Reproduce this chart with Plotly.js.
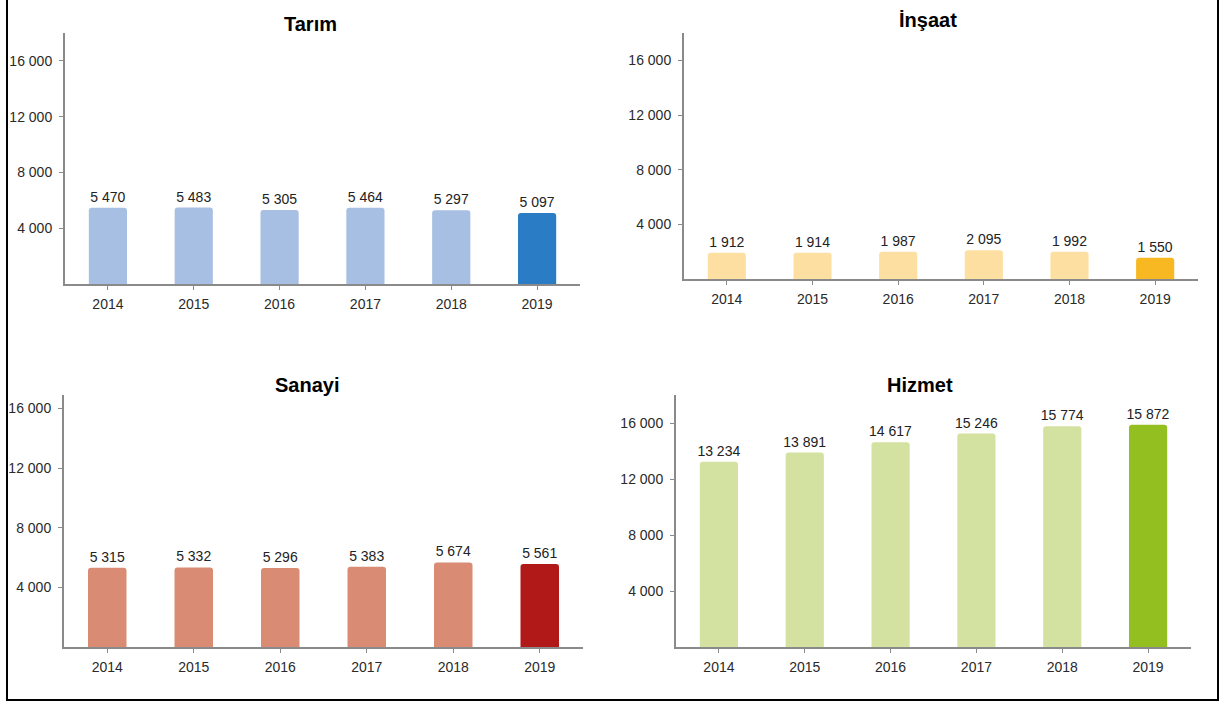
<!DOCTYPE html>
<html>
<head>
<meta charset="utf-8">
<script src="https://cdn.plot.ly/plotly-3.0.1.min.js"></script>
<style>html,body{margin:0;padding:0;background:#fff;}#chart{width:1226px;height:703px;}</style>
</head>
<body>
<div id="chart"></div>
<script>
const years = ['2014', '2015', '2016', '2017', '2018', '2019'];
const tarim = [5470, 5483, 5305, 5464, 5297, 5097];
const insaat = [1912, 1914, 1987, 2095, 1992, 1550];
const sanayi = [5315, 5332, 5296, 5383, 5674, 5561];
const hizmet = [13234, 13891, 14617, 15246, 15774, 15872];
const titles = ['Tarım', 'İnşaat', 'Sanayi', 'Hizmet'];
const yTicks = [4000, 8000, 12000, 16000];

const W = 1226, H = 703;
const px = v => v / W;
const py = v => 1 - v / H;

const panels = [
  {data: tarim,  light: '#a7bfe3', dark: '#2a7dc5', x: [65, 580],  y: [284, 33],  max: 18000, tx: 310, ty: 24},
  {data: insaat, light: '#fde0a1', dark: '#f7b822', x: [684, 1198], y: [279, 33], max: 18000, tx: 928, ty: 20},
  {data: sanayi, light: '#d98b74', dark: '#b11818', x: [64, 583],  y: [647, 395], max: 16900, tx: 307, ty: 385},
  {data: hizmet, light: '#d3e2a0', dark: '#94bf21', x: [676, 1191], y: [647, 395], max: 18000, tx: 920, ty: 385}
];

const font = 'Arial, "Liberation Sans", sans-serif';
const traces = [];
const layout = {
  width: W, height: H,
  margin: {l: 0, r: 0, t: 0, b: 0},
  paper_bgcolor: '#ffffff', plot_bgcolor: 'rgba(0,0,0,0)',
  showlegend: false,
  separators: ', ',
  bargap: 0.555,
  font: {family: font, color: '#222'},
  annotations: [],
  shapes: [{type: 'rect', xref: 'paper', yref: 'paper',
    x0: px(7), x1: px(1218), y0: py(700), y1: 1.02,
    line: {color: '#000', width: 2}, fillcolor: 'rgba(0,0,0,0)'}]
};

panels.forEach((p, i) => {
  const n = i + 1;
  const xa = n === 1 ? 'x' : 'x' + n;
  const ya = n === 1 ? 'y' : 'y' + n;
  const colors = p.data.map((_, k) => k === p.data.length - 1 ? p.dark : p.light);
  traces.push({
    type: 'bar', x: years, y: p.data, xaxis: xa, yaxis: ya,
    marker: {color: colors, cornerradius: 3, line: {width: 0}},
    texttemplate: '%{y:,}', textposition: 'outside', constraintext: 'none',
    textfont: {size: 14, color: '#222', family: font},
    cliponaxis: false, hoverinfo: 'skip'
  });
  const xKey = n === 1 ? 'xaxis' : 'xaxis' + n;
  const yKey = n === 1 ? 'yaxis' : 'yaxis' + n;
  layout[xKey] = {
    domain: [px(p.x[0]), px(p.x[1])], anchor: ya,
    type: 'category', showline: true, linecolor: '#8a8a8a', linewidth: 2,
    ticks: 'outside', ticklen: 4, tickcolor: '#8a8a8a', tickwidth: 1,
    ticklabelstandoff: 2,
    tickfont: {size: 14, color: '#2a2a2a', family: font},
    showgrid: false, zeroline: false, fixedrange: true
  };
  layout[yKey] = {
    domain: [py(p.y[0]), py(p.y[1])], anchor: xa,
    range: [0, p.max], tickvals: yTicks, tickformat: ',',
    showline: true, linecolor: '#8a8a8a', linewidth: 2,
    ticks: 'outside', ticklen: 4, tickcolor: '#8a8a8a', tickwidth: 1,
    ticklabelstandoff: 4,
    tickfont: {size: 14, color: '#2a2a2a', family: font},
    showgrid: false, zeroline: false, fixedrange: true
  };
  layout.annotations.push({
    text: '<b>' + titles[i] + '</b>', xref: 'paper', yref: 'paper',
    x: px(p.tx), y: py(p.ty), xanchor: 'center', yanchor: 'middle',
    showarrow: false, font: {size: 20, color: '#000', family: font}
  });
});

Plotly.newPlot('chart', traces, layout, {displayModeBar: false, staticPlot: true});
</script>
</body>
</html>
